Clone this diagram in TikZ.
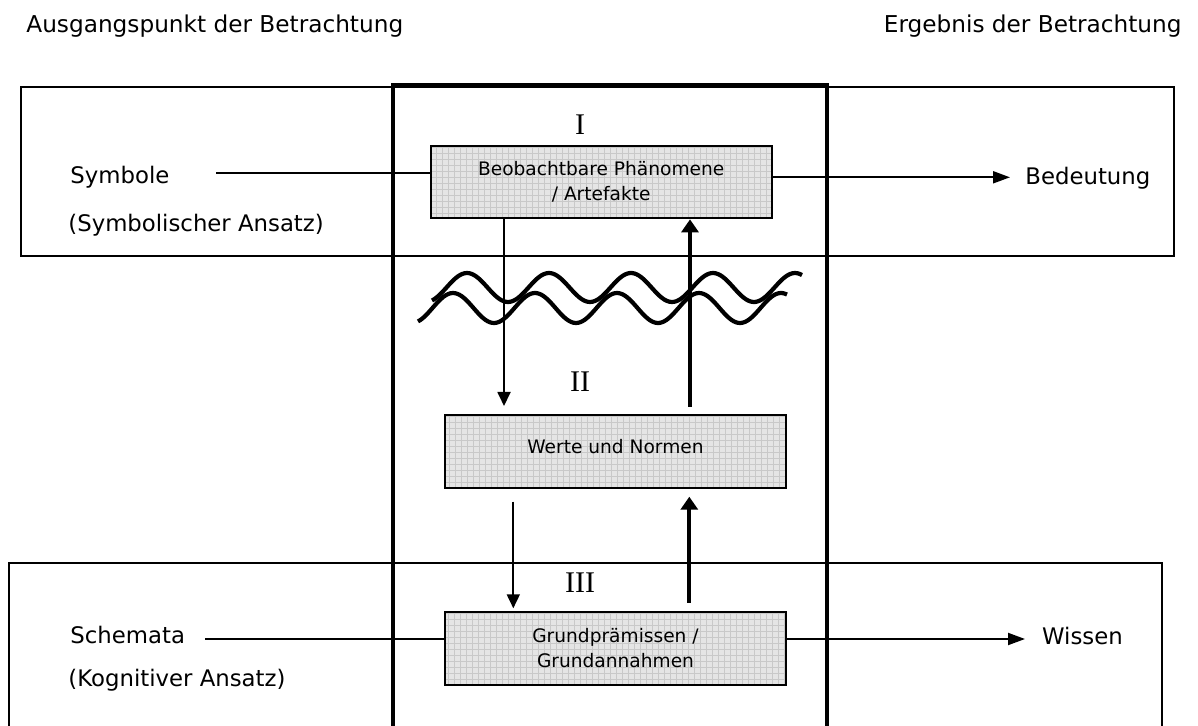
\documentclass[tikz,border=0pt]{standalone}
\usepackage{fontspec}
\setmainfont{DejaVu Sans}
\newfontfamily\romfont{Liberation Serif}
\usetikzlibrary{arrows.meta}
\begin{document}
\begin{tikzpicture}[x=0.5pt,y=-0.5pt,
  txt/.style={inner sep=0pt, font=\fontsize{11.4pt}{14pt}\selectfont},
  head/.style={inner sep=0pt, font=\fontsize{11.6pt}{14pt}\selectfont},
  boxtxt/.style={font=\fontsize{9.3pt}{12.5pt}\selectfont, align=center},
  roman/.style={inner sep=0pt, font=\romfont\fontsize{15pt}{15pt}\selectfont},
  frame/.style={line width=1pt},
  heavy/.style={line width=2pt},
  gbox/.style={draw, line width=1pt, fill=gray!20, minimum width=170.5pt, inner sep=0pt,
    path picture={\draw[gray!42, line width=0.25pt] (path picture bounding box.south west) grid[step=3pt] (path picture bounding box.north east);}},
  thinarr/.style={line width=0.9pt, -{Triangle[length=7pt,width=6.5pt]}},
  thickarr/.style={line width=2pt, -{Triangle[length=6.5pt,width=8.5pt]}},
  rarr/.style={line width=1pt, -{Triangle[length=8.5pt,width=6pt]}},
  plain/.style={line width=1pt},
  wave/.style={line width=2.1pt}
]
\useasboundingbox (0,0) rectangle (1198,726);
\clip (0,0) rectangle (1198,726);

% top headings
\node[head, anchor=base west] (h1) at (26,33) {Ausgangspunkt der Betrachtung};
\node[head, anchor=base east] (h2) at (1182,33) {Ergebnis der Betrachtung};

% frames
\draw[frame] (21,87) rectangle (1174,256);
\draw[frame] (9,740) -- (9,562.5) -- (1162,562.5) -- (1162,740);
\draw[heavy] (393,740) -- (393,85.5) -- (827,85.5) -- (827,740);

% gray boxes
\node[gbox, minimum height=36.15pt, boxtxt] (b1) at (601.2,182.2) {Beobachtbare Phänomene\\/ Artefakte};
\node[gbox, minimum height=36.65pt, boxtxt] (b2) at (615.5,451.7) {\raisebox{5pt}{Werte und Normen}};
\node[gbox, minimum height=36.65pt, boxtxt] (b3) at (615.5,648.3) {Grundprämissen /\\Grundannahmen};

% roman labels
\node[roman] (l1) at (580,125) {I};
\node[roman] (l2) at (580,382) {II};
\node[roman] (l3) at (580,583) {III};

% side labels
\node[txt, anchor=base west] (sym) at (70,184) {Symbole};
\node[txt, anchor=base west] (syma) at (68,231.5) {(Symbolischer Ansatz)};
\node[txt, anchor=base west] (bed) at (1025,185) {Bedeutung};
\node[txt, anchor=base west] (sch) at (70,643.3) {Schemata};
\node[txt, anchor=base west] (kog) at (68,686.7) {(Kognitiver Ansatz)};
\node[txt, anchor=base west] (wis) at (1041.7,644) {Wissen};

% waves
\draw[wave] plot[domain=432:802, samples=160] (\x, {287.5-14.5*cos((\x-467)/82*360)});
\draw[wave] plot[domain=418:787, samples=160] (\x, {308-15*cos((\x-453)/82*360)});

% horizontal connectors
\coordinate (cs) at (216,173.3);
\draw[plain] (cs) -- (cs -| b1.west);
\coordinate (cb) at (1010,177.3);
\draw[rarr] (cb -| b1.east) -- (cb);
\coordinate (cc) at (205,639.2);
\draw[plain] (cc) -- (cc -| b3.west);
\coordinate (cw) at (1025,639);
\draw[rarr] (cw -| b3.east) -- (cw);

% vertical connectors
\coordinate (t1) at (504,406);
\draw[thinarr] (t1 |- b1.south) -- (t1);
\coordinate (s1) at (690,406.7);
\draw[thickarr] (s1) -- (s1 |- b1.south);
\coordinate (s2) at (513.3,501.7);
\coordinate (t2) at (513.3,608.3);
\draw[thinarr] (s2) -- (t2);
\coordinate (s3) at (689.3,602.7);
\coordinate (t3) at (689.3,496.7);
\draw[thickarr] (s3) -- (t3);
\end{tikzpicture}
\end{document}
